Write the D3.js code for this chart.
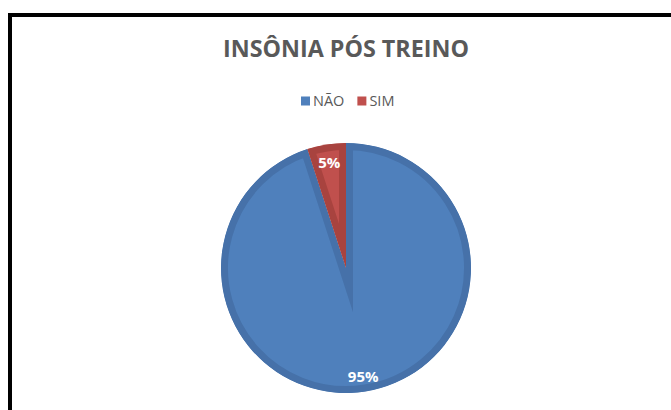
<!DOCTYPE html>
<html>
<head>
<meta charset="utf-8">
<script src="https://cdn.jsdelivr.net/npm/d3@7"></script>
<style>
  body { margin: 0; background: #fff; }
  svg { display: block; }
</style>
</head>
<body>
<svg id="chart" width="671" height="410"></svg>
<script>
const title = "INSÔNIA PÓS TREINO"
const categories = ["NÃO", "SIM"]
const values = [95, 5]
const labels = ["95%", "5%"]
const fills = ["#4f80bc", "#c0504d"]
const edges = ["#4671a9", "#a8433f"]

const svg = d3.select("#chart")

// outer frame (cut off at right and bottom in the source)
svg.append("rect")
    .attr("x", 10).attr("y", 15)
    .attr("width", 800).attr("height", 600)
    .attr("fill", "#fff")
    .attr("stroke", "#000")
    .attr("stroke-width", 4)

svg.append("text")
    .attr("x", 346)
    .attr("y", 57)
    .attr("text-anchor", "middle")
    .style("font-family", "'Open Sans', sans-serif")
    .style("font-weight", "bold")
    .style("font-size", "23.3px")
    .style("fill", "#595959")
    .text(title)

// legend
const legend = svg.append("g").attr("transform", "translate(301,101)")
let lx = 0
categories.forEach((c, i) => {
    legend.append("rect")
        .attr("x", lx).attr("y", -4.5)
        .attr("width", 9).attr("height", 9)
        .attr("fill", fills[i])
    let t = legend.append("text")
        .attr("x", lx + 12).attr("y", 0)
        .attr("dy", "0.35em")
        .style("font-family", "'Open Sans', sans-serif")
        .style("font-size", "14.5px")
        .style("fill", "#595959")
        .text(c)
    lx += 12 + t.node().getComputedTextLength() + 13
})

// pie
const cx = 346, cy = 268, r = 125
const pie = d3.pie().sort(null).value(d => d)
const arc = d3.arc().innerRadius(0).outerRadius(r)
const arcs = pie(values)

const defs = svg.append("defs")
const g = svg.append("g").attr("transform", `translate(${cx},${cy})`)

arcs.forEach((a, i) => {
    defs.append("clipPath").attr("id", "clip" + i)
        .append("path").attr("d", arc(a))
    g.append("path")
        .attr("d", arc(a))
        .attr("fill", fills[i])
        .attr("stroke", edges[i])
        .attr("stroke-width", 14)
        .attr("stroke-linejoin", "miter")
        .attr("stroke-miterlimit", 10)
        .attr("clip-path", `url(#clip${i})`)
})

// data labels
arcs.forEach((a, i) => {
    const mid = (a.startAngle + a.endAngle) / 2
    const lr = i === 0 ? 110 : 107
    g.append("text")
        .attr("x", Math.sin(mid) * lr)
        .attr("y", -Math.cos(mid) * lr)
        .attr("text-anchor", "middle")
        .attr("dy", "0.35em")
        .style("font-family", "'Open Sans', sans-serif")
        .style("font-weight", "bold")
        .style("font-size", "15px")
        .style("fill", "#fff")
        .text(labels[i])
})
</script>
</body>
</html>
